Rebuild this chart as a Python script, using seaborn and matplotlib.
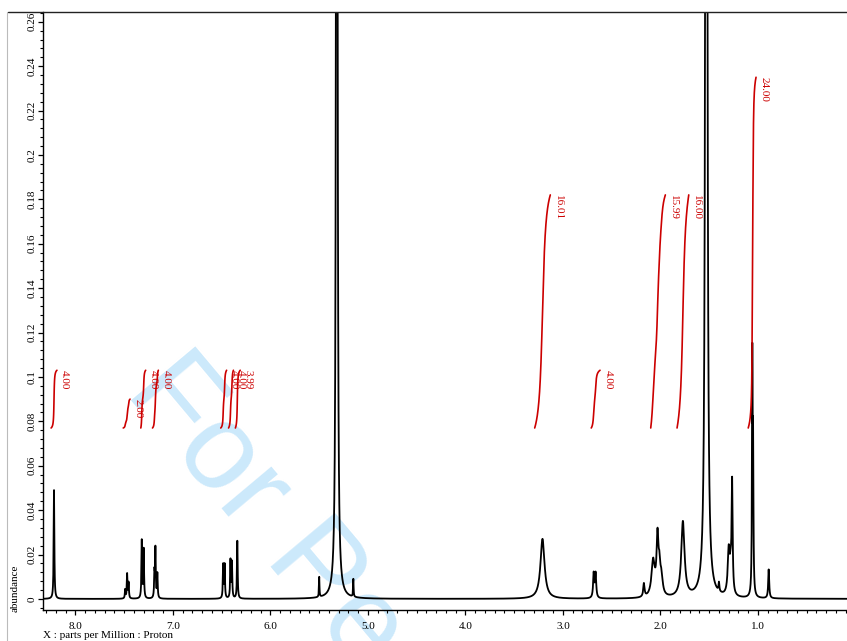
import numpy as np
import pandas as pd
import seaborn as sns
import matplotlib
matplotlib.use("Agg")
import matplotlib.pyplot as plt
from matplotlib.ticker import MultipleLocator, FuncFormatter
from matplotlib.lines import Line2D

# ---------------- data ----------------
peak_ppm = [8.22, 7.49, 7.47, 7.455, 7.32, 7.30, 7.19, 7.18, 7.16,
            6.485, 6.47, 6.41, 6.395, 6.34, 5.50, 5.32, 5.15,
            3.21, 2.685, 2.665, 2.17, 2.075, 2.03, 2.01, 1.99, 1.77, 1.53,
            1.40, 1.30, 1.28, 1.265, 1.058, 1.050, 0.89]
peak_height = [0.049, 0.004, 0.011, 0.007, 0.026, 0.022, 0.011, 0.022, 0.011,
               0.015, 0.015, 0.017, 0.016, 0.026, 0.009, 1.2, 0.008,
               0.027, 0.011, 0.011, 0.006, 0.016, 0.026, 0.010, 0.008, 0.034, 1.5,
               0.004, 0.020, 0.010, 0.049, 0.103, 0.060, 0.013]
peak_hwhm = [0.004, 0.004, 0.004, 0.004, 0.004, 0.004, 0.004, 0.004, 0.004,
             0.004, 0.004, 0.004, 0.004, 0.004, 0.003, 0.005, 0.003,
             0.025, 0.007, 0.007, 0.008, 0.02, 0.012, 0.01, 0.015, 0.02, 0.006,
             0.005, 0.012, 0.01, 0.006, 0.004, 0.004, 0.006]

int_start = [8.25, 7.51, 7.33, 7.21, 6.51, 6.43, 6.36, 3.29, 2.71, 2.10, 1.83, 1.10]
int_end = [8.19, 7.44, 7.28, 7.15, 6.45, 6.38, 6.31, 3.13, 2.62, 1.95, 1.71, 1.02]
int_top = [0.103, 0.090, 0.103, 0.103, 0.103, 0.103, 0.103, 0.182, 0.103, 0.182, 0.182, 0.235]
int_labels = ["4.00", "2.00", "4.00", "4.00", "4.00", "4.00", "3.99",
              "16.01", "4.00", "15.99", "16.00", "24.00"]
int_base = 0.077

x_ticks = [8.0, 7.0, 6.0, 5.0, 4.0, 3.0, 2.0, 1.0]

# ---------------- build spectrum from peak list ----------------
ppm = np.arange(0.0, 8.4, 0.0005)
spec = np.zeros_like(ppm)
for c, h, w in zip(peak_ppm, peak_height, peak_hwhm):
    spec += h * w**2 / (w**2 + (ppm - c)**2)
spec_df = pd.DataFrame({"ppm": ppm, "abundance": spec})

# integral curves from cumulative area of the spectrum
int_frames = []
for i, (a, b, top) in enumerate(zip(int_start, int_end, int_top)):
    m = (ppm <= a) & (ppm >= b)
    sx = ppm[m][::-1]
    sy = spec[m][::-1]
    cum = np.concatenate([[0.0], np.cumsum((sy[1:] + sy[:-1]) / 2 * np.abs(np.diff(sx)))])
    frac = cum / cum[-1]
    int_frames.append(pd.DataFrame({"ppm": sx, "y": int_base + frac * (top - int_base), "id": i}))
int_df = pd.concat(int_frames, ignore_index=True)

# ---------------- figure ----------------
sns.set_theme(style="white")
plt.rcParams["font.family"] = ["Liberation Serif", "DejaVu Serif"]

W, H = 847, 641
fig = plt.figure(figsize=(W / 100, H / 100), dpi=100)
ax = fig.add_axes([43 / W, 31 / H, 1 - 43 / W, (610 - 12) / H])
ax.patch.set_visible(False)

sns.lineplot(data=spec_df, x="ppm", y="abundance", ax=ax, color="black",
             linewidth=1.3, estimator=None, sort=False, zorder=3)
for i in range(len(int_start)):
    sub = int_df[int_df["id"] == i]
    sns.lineplot(data=sub, x="ppm", y="y", ax=ax, color="#cc0000",
                 linewidth=1.2, estimator=None, sort=False, zorder=4)
    ax.text(int_end[i] - 0.08, int_top[i], int_labels[i], rotation=-90,
            ha="center", va="top", color="#cc0000", fontsize=8, zorder=5)

ax.set_xlim(8.333, 0.087)
ax.set_ylim(-0.005, 0.2644)
ax.set_xlabel("")
ax.set_ylabel("")

ax.set_xticks(x_ticks)
ax.set_xticklabels([f"{t:.1f}" for t in x_ticks])
ax.xaxis.set_minor_locator(MultipleLocator(0.1))
ax.yaxis.set_major_locator(MultipleLocator(0.02))
ax.yaxis.set_minor_locator(MultipleLocator(0.004))
ax.yaxis.set_major_formatter(FuncFormatter(lambda v, p: f"{v:.2f}".rstrip("0").rstrip(".") if abs(v) > 1e-9 else "0"))

ax.tick_params(axis="both", which="major", direction="out", length=3.5, width=0.9,
               color="black", labelsize=8, labelcolor="black", bottom=True, left=True)
ax.tick_params(axis="both", which="minor", direction="out", length=2.5, width=0.8,
               color="black", bottom=True, left=True)
ax.tick_params(axis="y", labelrotation=90, pad=1)
ax.tick_params(axis="x", pad=5)
for lab in ax.get_yticklabels():
    lab.set_va("center")

for s in ["top", "right"]:
    ax.spines[s].set_visible(False)
for s in ["left", "bottom"]:
    ax.spines[s].set_color("black")
    ax.spines[s].set_linewidth(1.0)

# page frame lines
fig.add_artist(Line2D([8 / W, 1.0], [1 - 12 / H, 1 - 12 / H], color="#222222", lw=1.0))
fig.add_artist(Line2D([7 / W, 7 / W], [0, 1 - 12 / H], color="#bbbbbb", lw=0.8))

fig.text(15 / W, 1 - 612 / H, "abundance", rotation=90, ha="center", va="bottom",
         fontsize=8, color="black")
fig.text(43 / W, 1 - 636 / H, "X : parts per Million : Proton", ha="left", va="center",
         fontsize=8, color="black")

# watermark
fig.text(124 / W, 1 - 392 / H, "For Peer Review", rotation=-50, rotation_mode="anchor",
         ha="left", va="baseline", fontsize=88, color="#cce9fb",
         family=["Liberation Sans", "DejaVu Sans"], zorder=-1)

fig.savefig("out.png", dpi=100)
